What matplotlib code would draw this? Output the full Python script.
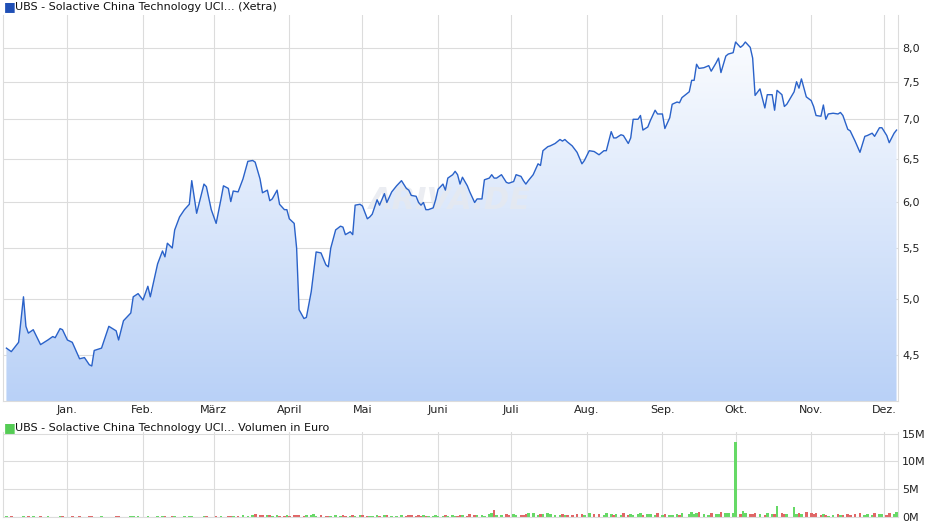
import matplotlib
matplotlib.use("Agg")
import matplotlib.pyplot as plt
import matplotlib.dates as mdates
from matplotlib.ticker import FixedLocator, NullLocator, FuncFormatter
import numpy as np
import pandas as pd

# days relative to 2024-01-01
days = [-25, -23, -20, -18, -17, -16, -14, -11, -8, -6,
        -5, -3, -2, 0, 2, 5, 7, 9, 10, 11,
        14, 17, 20, 21, 23, 26, 27, 29, 31, 33,
        34, 37, 39, 40, 41, 43, 44, 46, 48, 50,
        51, 53, 56, 57, 59, 61, 63, 64, 66, 67,
        68, 70, 72, 74, 76, 77, 79, 80, 82, 83,
        84, 86, 87, 89, 90, 91, 93, 94, 95, 97,
        98, 100, 101, 102, 104, 106, 107, 108, 110, 112,
        113, 114, 116, 117, 118, 120, 121, 123, 124, 125,
        127, 128, 130, 131, 133, 135, 137, 139, 140, 141,
        143, 144, 145, 146, 147, 148, 150, 151, 152, 154,
        155, 156, 158, 159, 160, 161, 162, 164, 165, 167,
        168, 170, 171, 173, 174, 175, 176, 178, 180, 181,
        183, 184, 186, 187, 188, 189, 191, 193, 194, 195,
        197, 198, 200, 202, 203, 204, 205, 207, 209, 211,
        212, 214, 216, 218, 220, 221, 223, 224, 225, 227,
        228, 230, 231, 232, 234, 235, 236, 238, 239, 241,
        242, 244, 245, 247, 248, 250, 251, 252, 255, 256,
        257, 258, 259, 261, 263, 264, 266, 267, 268, 270,
        271, 273, 274, 276, 277, 278, 280, 281, 282, 284,
        286, 287, 289, 290, 291, 293, 294, 295, 298, 299,
        300, 301, 303, 305, 306, 307, 309, 310, 311, 312,
        314, 316, 317, 318, 320, 321, 323, 325, 327, 328,
        330, 331, 333, 334, 336, 337, 339, 340]

prices = [4.56, 4.53, 4.61, 5.02, 4.75, 4.69, 4.72, 4.59, 4.63, 4.66,
          4.65, 4.73, 4.72, 4.63, 4.61, 4.47, 4.48, 4.42, 4.41, 4.54,
          4.56, 4.75, 4.71, 4.63, 4.80, 4.87, 5.02, 5.05, 4.99, 5.12,
          5.02, 5.34, 5.47, 5.41, 5.55, 5.50, 5.69, 5.83, 5.91, 5.97,
          6.24, 5.87, 6.20, 6.17, 5.91, 5.76, 6.03, 6.18, 6.15, 6.00,
          6.12, 6.11, 6.26, 6.47, 6.48, 6.46, 6.26, 6.10, 6.13, 6.01,
          6.03, 6.13, 5.97, 5.91, 5.91, 5.81, 5.76, 5.50, 4.90, 4.82,
          4.83, 5.07, 5.26, 5.46, 5.45, 5.33, 5.31, 5.50, 5.69, 5.73,
          5.72, 5.64, 5.67, 5.64, 5.96, 5.97, 5.95, 5.81, 5.83, 5.86,
          6.02, 5.96, 6.09, 5.99, 6.11, 6.18, 6.24, 6.15, 6.13, 6.07,
          6.06, 5.99, 5.96, 5.99, 5.91, 5.91, 5.93, 6.02, 6.14, 6.20,
          6.13, 6.27, 6.31, 6.35, 6.31, 6.20, 6.28, 6.18, 6.11, 5.99,
          6.03, 6.03, 6.25, 6.27, 6.31, 6.27, 6.27, 6.31, 6.22, 6.21,
          6.23, 6.31, 6.29, 6.24, 6.20, 6.24, 6.31, 6.44, 6.42, 6.60,
          6.65, 6.66, 6.69, 6.74, 6.72, 6.74, 6.71, 6.66, 6.58, 6.44,
          6.48, 6.60, 6.59, 6.55, 6.60, 6.60, 6.84, 6.76, 6.76, 6.80,
          6.79, 6.69, 6.76, 7.00, 7.00, 7.05, 6.86, 6.90, 6.98, 7.12,
          7.07, 7.07, 6.88, 7.02, 7.20, 7.23, 7.22, 7.29, 7.37, 7.53,
          7.53, 7.76, 7.70, 7.71, 7.74, 7.66, 7.78, 7.85, 7.64, 7.88,
          7.91, 7.93, 8.09, 8.01, 8.04, 8.09, 8.01, 7.85, 7.32, 7.41,
          7.15, 7.33, 7.33, 7.12, 7.39, 7.33, 7.17, 7.20, 7.37, 7.51,
          7.42, 7.55, 7.30, 7.25, 7.17, 7.05, 7.04, 7.19, 7.00, 7.07,
          7.08, 7.07, 7.09, 7.05, 6.87, 6.85, 6.72, 6.58, 6.78, 6.79,
          6.82, 6.78, 6.89, 6.89, 6.79, 6.70, 6.82, 6.86]

# volume in millions of euro
volumes = [.10, .12, .08, .10, .09, .11, .10, .12, .10, .08,
           .09, .10, .11, .08, .10, .12, .09, .10, .11, .09,
           .10, .08, .12, .10, .09, .11, .10, .12, .08, .10,
           .09, .11, .10, .12, .08, .10, .11, .09, .10, .12,
           .10, .09, .11, .10, .08, .12, .10, .09, .11, .10,
           .15, .12, .30, .20, .40, .60, .35, .30, .35, .30,
           .20, .30, .25, .15, .30, .20, .40, .30, .40, .20,
           .35, .30, .50, .20, .30, .15, .20, .15, .30, .20,
           .30, .25, .20, .30, .15, .35, .30, .20, .25, .20,
           .30, .15, .35, .30, .20, .25, .30, .20, .35, .30,
           .20, .30, .15, .35, .25, .20, .15, .30, .25, .20,
           .30, .20, .40, .25, .20, .30, .35, .20, .50, .30,
           .40, .30, .25, .60, .70, 1.20, .30, .40, .60, .35,
           .50, .30, .40, .30, .55, .70, .80, .40, .50, .60,
           .70, .50, .40, .30, .50, .40, .30, .40, .60, .50,
           .45, .70, .50, .60, .40, .80, .50, .40, .60, .30,
           .70, .40, .60, .30, .50, .80, .40, .50, .60, .40,
           .70, .30, .50, .40, .30, .60, .40, .70, .50, .90,
           .60, .70, .90, .50, .40, .70, .50, .60, .90, .80,
           .70, .80, 13.5, .60, 1.00, .80, .60, .50, .70, .60,
           .40, .70, .60, .50, 2.00, .70, .60, .50, 1.80, .50,
           .80, .60, .90, .70, .50, .80, .40, .60, .30, .20,
           .40, .50, .30, .40, .60, .40, .60, .70, .40, .60,
           .30, .70, .50, .60, .40, .80, .60, .90]

months = ["Jan.", "Feb.", "März", "April", "Mai", "Juni", "Juli",
          "Aug.", "Sep.", "Okt.", "Nov.", "Dez."]
price_ticks = [4.5, 5.0, 5.5, 6.0, 6.5, 7.0, 7.5, 8.0]
vol_ticks = [0, 5, 10, 15]

dates = pd.Timestamp("2024-01-01") + pd.to_timedelta(days, unit="D")
x = mdates.date2num(dates)
month_x = mdates.date2num(pd.date_range("2024-01-01", periods=12, freq="MS"))
xmin = mdates.date2num(pd.Timestamp("2024-01-01") - pd.Timedelta(days=26.4))
xmax = mdates.date2num(pd.Timestamp("2024-01-01") + pd.Timedelta(days=340.6))

grid_c = "#dcdcdc"
line_c = "#2a62c9"

fig = plt.figure(figsize=(9.4, 5.26), dpi=100)
W, H = 940, 526
ax = fig.add_axes([3 / W, (H - 401) / H, 895 / W, 386 / H])
axv = fig.add_axes([3 / W, (H - 517) / H, 895 / W, 85 / H])

# price chart
ax.set_yscale("log")
ax.set_xlim(xmin, xmax)
ax.set_ylim(4.13, 8.51)
poly = ax.fill_between(x, prices, 1, color="none", lw=0)
grad = np.linspace(0, 1, 256).reshape(-1, 1)
from matplotlib.colors import LinearSegmentedColormap
cmap = LinearSegmentedColormap.from_list("g", ["#b9d1f7", "#ffffff"])
im = ax.imshow(grad, cmap=cmap, aspect="auto", extent=[0, 1, 0, 1],
               transform=ax.transAxes, origin="lower", zorder=1)
im.set_clip_path(poly.get_paths()[0], transform=ax.transData)
ax.plot(x, prices, color=line_c, lw=1.0, zorder=3)
ax.text(0.5, 0.52, "ARIVA.DE", transform=ax.transAxes, fontsize=22,
        fontweight="bold", fontstyle="italic", color="#e6e9ef", alpha=0.8,
        ha="center", va="center", zorder=2)

ax.yaxis.set_major_locator(FixedLocator(price_ticks))
ax.yaxis.set_minor_locator(NullLocator())
ax.yaxis.set_major_formatter(FuncFormatter(lambda v, p: f"{v:.1f}".replace(".", ",")))
ax.yaxis.tick_right()
ax.set_xticks(month_x)
ax.set_xticklabels(months)

for a in (ax, axv):
    a.grid(True, color=grid_c, lw=0.8, zorder=0)
    a.set_axisbelow(True)
    a.tick_params(length=0, labelsize=8, colors="#222222", pad=3)
    for s in a.spines.values():
        s.set_color(grid_c)
        s.set_linewidth(0.8)
    a.spines["top"].set_visible(False)

# volume chart
colors = ["#66d966"] + ["#66d966" if prices[i] >= prices[i - 1] else "#e06666"
                        for i in range(1, len(prices))]
axv.bar(x, volumes, width=1.1, color=colors, zorder=2)
axv.set_xlim(xmin, xmax)
axv.set_ylim(0, 15.3)
axv.set_yticks(vol_ticks)
axv.set_yticklabels([f"{v}M" for v in vol_ticks])
axv.yaxis.tick_right()
axv.set_xticks(month_x)
axv.set_xticklabels([])

# headers
fig.text(4 / W, 1 - 7 / H, "\u25a0", color="#1f4fb5", fontsize=9, va="center")
fig.text(15 / W, 1 - 7 / H, "UBS - Solactive China Technology UCI... (Xetra)",
         fontsize=8, va="center", color="#111111")
fig.text(4 / W, 1 - 428 / H, "\u25a0", color="#55cc55", fontsize=9, va="center")
fig.text(15 / W, 1 - 428 / H, "UBS - Solactive China Technology UCI... Volumen in Euro",
         fontsize=8, va="center", color="#111111")

fig.savefig("out.png", dpi=100)
